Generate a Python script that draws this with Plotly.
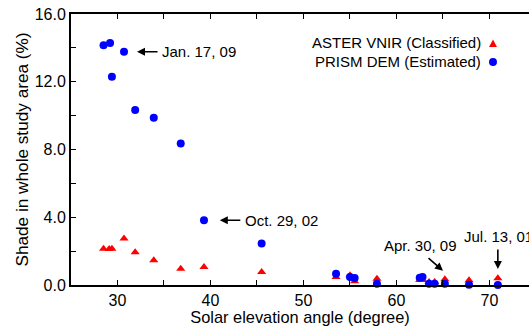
import plotly.graph_objects as go

# Data
sun_angle = [28.5, 29.2, 30.7, 29.4, 31.9, 33.9, 36.8, 39.3, 45.5,
             53.5, 55.0, 55.5, 57.9, 62.5, 62.8, 63.5, 64.1, 65.2, 67.8, 70.9]
prism_dem = [14.15, 14.29, 13.77, 12.30, 10.33, 9.88, 8.36, 3.82, 2.45,
             0.67, 0.47, 0.41, 0.08, 0.43, 0.47, 0.08, 0.08, 0.08, 0.02, 0.0]
aster_angle = [28.5, 29.1, 29.4, 30.7, 31.9, 33.9, 36.8, 39.3, 45.5,
               53.5, 55.0, 55.5, 57.9, 62.5, 62.8, 63.5, 64.1, 65.2, 67.8, 70.9]
aster_vnir = [2.14, 2.12, 2.14, 2.75, 1.93, 1.46, 0.96, 1.06, 0.77,
              0.47, 0.57, 0.22, 0.37, 0.30, 0.30, 0.18, 0.18, 0.34, 0.28, 0.40]

x_ticks = [30, 35, 40, 45, 50, 55, 60, 65, 70]
x_labels = ["30", "", "40", "", "50", "", "60", "", "70"]
y_ticks = [0, 2, 4, 6, 8, 10, 12, 14, 16]
y_labels = ["0.0", "", "4.0", "", "8.0", "", "12.0", "", "16.0"]

FONT = "Liberation Sans, Arial, sans-serif"

fig = go.Figure()
fig.add_trace(go.Scatter(x=aster_angle, y=aster_vnir, mode="markers",
                         marker=dict(symbol="triangle-up", size=8, color="#ff0000"),
                         cliponaxis=False, showlegend=False))
fig.add_trace(go.Scatter(x=sun_angle, y=prism_dem, mode="markers",
                         marker=dict(symbol="circle", size=8, color="#0000ff"),
                         cliponaxis=False, showlegend=False))

txt = dict(family=FONT, size=15, color="black")
anns = []

def arrow(x, y, ax, ay):
    anns.append(dict(x=x, y=y, xref="x", yref="y", text="", showarrow=True,
                     ax=ax, ay=ay, arrowhead=2, arrowsize=1, arrowwidth=1.6,
                     arrowcolor="black"))

def label(x, y, text, xanchor):
    anns.append(dict(x=x, y=y, xref="x", yref="y", text=text, showarrow=False,
                     xanchor=xanchor, yanchor="middle", font=txt))

arrow(32.1, 13.77, 22, 0)
label(34.6, 13.77, "Jan. 17, 09", "left")
arrow(41.0, 3.82, 22, 0)
label(43.5, 3.82, "Oct. 29, 02", "left")
arrow(65.0, 0.84, -16, -14)
label(62.6, 2.35, "Apr. 30, 09", "center")
arrow(70.9, 0.95, 0, -21)
label(67.0, 2.85, "Jul. 13, 01", "left")

# Legend as annotations
anns.append(dict(x=0.8996, y=0.893, xref="paper", yref="paper", text="ASTER VNIR (Classified)",
                 showarrow=False, xanchor="right", yanchor="middle", font=txt))
anns.append(dict(x=0.8996, y=0.823, xref="paper", yref="paper", text="PRISM DEM (Estimated)",
                 showarrow=False, xanchor="right", yanchor="middle", font=txt))

shapes = [
    dict(type="path", xref="paper", yref="paper",
         path="M 0.9127,0.878 L 0.9301,0.878 L 0.9214,0.906 Z",
         fillcolor="#ff0000", line=dict(width=0)),
    dict(type="circle", xref="paper", yref="paper",
         x0=0.9127, x1=0.9301, y0=0.808, y1=0.838,
         fillcolor="#0000ff", line=dict(width=0)),
]

fig.update_layout(
    width=529, height=326,
    margin=dict(l=71, r=0, t=14, b=41),
    paper_bgcolor="white", plot_bgcolor="white",
    font=dict(family=FONT, size=15, color="black"),
    annotations=anns, shapes=shapes,
    xaxis=dict(range=[25, 74.25], tickmode="array", tickvals=x_ticks, ticktext=x_labels,
               ticks="inside", ticklen=5, tickwidth=1, tickcolor="black",
               showline=True, linecolor="black", linewidth=2, mirror="ticks",
               showgrid=False, zeroline=False,
               title=dict(text="Solar elevation angle (degree)", standoff=0,
                          font=dict(family=FONT, size=16.4)),
               tickfont=dict(family=FONT, size=16)),
    yaxis=dict(range=[0, 16], tickmode="array", tickvals=y_ticks, ticktext=y_labels,
               ticks="inside", ticklen=5, tickwidth=1, tickcolor="black",
               showline=True, linecolor="black", linewidth=2,
               showgrid=False, zeroline=False,
               title=dict(text="Shade in whole study area (%)", standoff=2,
                          font=dict(family=FONT, size=17.2)),
               tickfont=dict(family=FONT, size=16)),
)

fig.write_html("out.html")
